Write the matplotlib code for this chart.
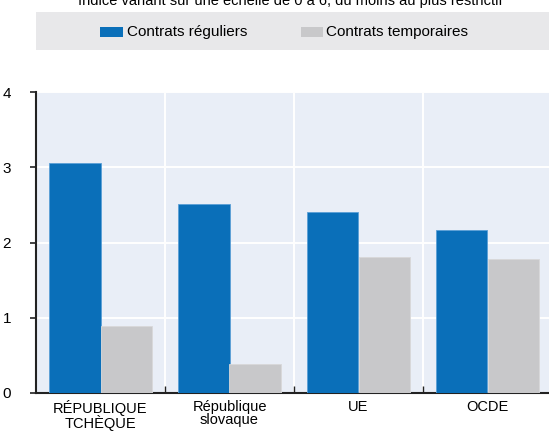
import numpy as np
import matplotlib
matplotlib.use("Agg")
import matplotlib.pyplot as plt
from matplotlib.patches import Rectangle

plt.rcParams['font.family'] = ['Liberation Sans', 'DejaVu Sans']

categories = ["RÉPUBLIQUE\nTCHÈQUE", "République\nslovaque", "UE", "OCDE"]
regular = [3.05, 2.51, 2.40, 2.17]
temporary = [0.89, 0.39, 1.81, 1.78]
series_names = ["Contrats réguliers", "Contrats temporaires"]
subtitle = "Indice variant sur une échelle de 0 à 6, du moins au plus restrictif"

blue = "#0a6fb9"
grey = "#c8c8ca"
bg = "#e9eef7"

fig = plt.figure(figsize=(5.49, 4.33), dpi=100)
ax = fig.add_axes([36 / 549, 1 - 393 / 433, 516 / 549, 301 / 433])
ax.set_facecolor(bg)

x = np.arange(len(categories))
w = 0.4
ax.bar(x - w / 2, regular, w, color=blue, edgecolor="#5b9fd6", linewidth=0.6, zorder=3)
ax.bar(x + w / 2, temporary, w, color=grey, edgecolor="#d8d8da", linewidth=0.6, zorder=3)

ax.set_xlim(-0.5, 3.5)
ax.set_ylim(0, 4)
ax.set_yticks([0, 1, 2, 3, 4])
ax.set_yticklabels(["0", "1", "2", "3", "4"], fontsize=11)
ax.yaxis.grid(True, color="white", linewidth=1.4, zorder=1)
for b in x[:-1] + 0.5:
    ax.axvline(b, color="white", linewidth=1.4, zorder=1)

ax.set_xticks(x)
ax.set_xticklabels(categories, fontsize=10.5, linespacing=0.95)
ax.tick_params(axis="x", length=0, pad=5)
ax.set_xticks(x[:-1] + 0.5, minor=True)
ax.tick_params(axis="x", which="minor", direction="in", length=5, width=1, color="#222222")
ax.tick_params(axis="y", direction="out", length=4, width=1.2, pad=14, color="#222222")

for s in ["top", "right"]:
    ax.spines[s].set_visible(False)
ax.spines["left"].set_linewidth(1.5)
ax.spines["bottom"].set_linewidth(1.5)
ax.spines["left"].set_color("#222222")
ax.spines["bottom"].set_color("#222222")

# legend band
fig.patches.append(Rectangle((36 / 549, 1 - 50 / 433), 520 / 549, 38 / 433,
                             transform=fig.transFigure, facecolor="#e8e8ea",
                             edgecolor="none", zorder=0))
fig.patches.append(Rectangle((100 / 549, 1 - 37 / 433), 23 / 549, 10 / 433,
                             transform=fig.transFigure, facecolor=blue, edgecolor="none"))
fig.patches.append(Rectangle((301 / 549, 1 - 37 / 433), 22 / 549, 10 / 433,
                             transform=fig.transFigure, facecolor=grey, edgecolor="none"))
fig.text(127 / 549, 1 - 32 / 433, series_names[0], fontsize=11, va="center", ha="left")
fig.text(326 / 549, 1 - 32 / 433, series_names[1], fontsize=11, va="center", ha="left")

fig.text(290 / 549, 1 - 1 / 433, subtitle, fontsize=10.5, va="center", ha="center")

fig.savefig("out.png", dpi=100)
